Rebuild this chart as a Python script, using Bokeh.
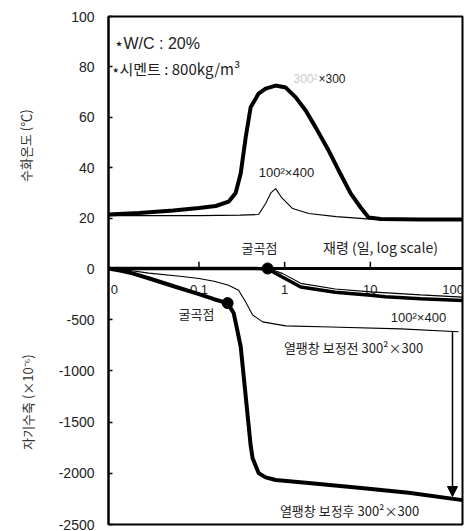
import numpy as np
from bokeh.plotting import figure
from bokeh.layouts import row
from bokeh.models import Range1d, FixedTicker, Span, Label, Arrow, NormalHead
from bokeh.core.properties import value
from bokeh.embed import file_html
from bokeh.resources import INLINE

# ---------------- data ----------------
# hydration temperature (deg C) vs age (days)
temp300_days = [0.0088, 0.02, 0.05, 0.1, 0.157, 0.222, 0.268, 0.307, 0.351, 0.401, 0.497, 0.6,
                0.785, 1.03, 1.34, 1.76, 2.3, 3.26, 4.27, 5.89, 7.71, 9.55, 13.2, 38.6, 119]
temp300_vals = [21.4, 22.0, 23.0, 24.0, 24.8, 26.5, 30.0, 37.7, 52.0, 64.0, 69.4, 71.4,
                72.6, 71.8, 68.0, 62.7, 56.0, 46.8, 38.9, 29.8, 24.2, 20.2, 19.6, 19.4, 19.4]
temp100_days = [0.0088, 0.1, 0.3, 0.497, 0.6, 0.69, 0.785, 0.93, 1.24, 1.91, 4.0, 10.0, 119]
temp100_vals = [21.0, 21.0, 21.2, 21.4, 25.8, 30.0, 31.7, 28.0, 23.8, 21.8, 20.6, 19.6, 19.4]

# autogenous shrinkage (x10^-6) vs age (days)
s100_after_days = [0.0088, 0.45, 0.633, 0.95, 1.54, 3.9, 10.1, 15, 38.6, 119]
s100_after_vals = [0, 0, -5, -85, -180, -232, -262, -275, -295, -312]
s100_before_days = [0.0088, 0.7, 0.95, 1.54, 3.9, 10.1, 38.6, 119]
s100_before_vals = [0, -10, -50, -145, -200, -228, -258, -280]
s300_before_days = [0.0088, 0.013, 0.026, 0.06, 0.1, 0.15, 0.222, 0.29, 0.351, 0.423, 0.553,
                    1.03, 3.45, 22.6, 107]
s300_before_vals = [0, -10, -45, -75, -97, -125, -164, -212, -328, -454, -521,
                    -560, -572, -590, -618]
s300_after_days = [0.0088, 0.012, 0.0168, 0.027, 0.053, 0.1, 0.15, 0.216, 0.254, 0.307, 0.351,
                   0.401, 0.423, 0.497, 0.6, 0.785, 1.9, 7.3, 28, 119]
s300_after_vals = [0, -20, -48, -100, -178, -251, -300, -338, -434, -762, -1245,
                   -1727, -1853, -1998, -2040, -2065, -2094, -2142, -2190, -2262]

inflect_days = [0.216, 0.633]
inflect_vals = [-338, 0]

x_ticks = [0.01, 0.1, 1, 10, 100]
x_tick_labels = ["0", "0.1", "1", "10", "100"]
temp_ticks = [20, 40, 60, 80, 100]
strain_ticks = [0, -500, -1000, -1500, -2000, -2500]

axis_titles = ["수화온도 (℃)", "자기수축 (×10⁻⁶)"]

# ---------------- geometry ----------------
W, H = 475, 531
LW = 50                      # width of the side strip holding the axis titles
XMIN, XMAX = 0.0088, 119
FL, FR, FT, FB = 108, 462, 16, 524
ZERO_PX = 268
S_MIN = -2500
S_MAX = 2500 / (FB - ZERO_PX) * (ZERO_PX - FT)
T_MAX = 100
T_MIN = -T_MAX / (ZERO_PX - FT) * (FB - ZERO_PX)
K = S_MAX / T_MAX

def sx(px):
    a, b = np.log10(XMIN), np.log10(XMAX)
    return 10 ** (a + (px - FL) / (FR - FL) * (b - a))

def sy(py):
    return S_MAX - (py - FT) / (FB - FT) * (S_MAX - S_MIN)

LAT = "Liberation Sans"
KR = "Noto Sans CJK KR"

# ---------------- side strip with the two vertical axis titles ----------------
side = figure(width=LW, height=H, x_range=Range1d(0, LW), y_range=Range1d(0, H),
              x_axis_location=None, y_axis_location=None, output_backend="svg",
              toolbar_location=None, min_border=0)
side.outline_line_color = None
side.grid.visible = False
side.text(x=[25, 27], y=[H - 135, H - 403], text=axis_titles, angle=np.pi / 2,
          text_font=value(KR), text_font_size="13px", text_align="center",
          text_baseline="middle", text_color="#333333")

# ---------------- main plot ----------------
p = figure(width=W - LW, height=H, x_axis_type="log", x_axis_location=None,
           y_axis_location="left", output_backend="svg", toolbar_location=None,
           x_range=Range1d(XMIN, XMAX), y_range=Range1d(S_MIN, S_MAX),
           min_border_left=FL - LW, min_border_right=W - FR, min_border_top=FT,
           min_border_bottom=H - FB)
p.extra_y_ranges = {"temp": Range1d(T_MIN, T_MAX)}
p.grid.visible = False
p.outline_line_color = "black"
p.outline_line_width = 2

ax = p.yaxis[0]
all_ticks = [float(v) for v in strain_ticks] + [float(t * K) for t in temp_ticks]
ax.ticker = FixedTicker(ticks=all_ticks)
overrides = {float(v): str(v) for v in strain_ticks}
for t in temp_ticks:
    overrides[float(t * K)] = str(t)
ax.major_label_overrides = overrides
ax.major_tick_in = 4
ax.major_tick_out = 0
ax.minor_tick_in = 0
ax.minor_tick_out = 0
ax.major_label_standoff = 14
ax.axis_line_width = 2
ax.major_tick_line_width = 1.5
ax.major_label_text_font = LAT
ax.major_label_text_font_size = "14px"
ax.major_label_text_color = "#222222"

# zero line (panel divider)
p.add_layout(Span(location=0, dimension="width", line_color="black", line_width=3))

# decade ticks pointing up from the zero line, and their labels below it
p.segment(x0=x_ticks[1:4], y0=[0] * 3, x1=x_ticks[1:4], y1=[65] * 3,
          line_color="black", line_width=1.5)
p.text(x=x_ticks, y=[0] * len(x_ticks), text=x_tick_labels, y_offset=21,
       x_offset=[1, 0, 0, 0, -3],
       text_font=value(LAT), text_font_size="13px", text_align="center",
       text_baseline="middle", text_color="#222222")

# temperature curves
p.line(temp100_days, temp100_vals, y_range_name="temp", line_color="black", line_width=1.1)
p.line(temp300_days, temp300_vals, y_range_name="temp", line_color="black", line_width=4)

# shrinkage curves
p.line(s100_before_days, s100_before_vals, line_color="black", line_width=1.1)
p.line(s100_after_days, s100_after_vals, line_color="black", line_width=3.5)
p.line(s300_before_days, s300_before_vals, line_color="black", line_width=1.1)
p.line(s300_after_days, s300_after_vals, line_color="black", line_width=4)
p.scatter(inflect_days, inflect_vals, size=11, color="black")

# arrow (thermal-expansion correction)
p.add_layout(Arrow(end=NormalHead(size=10, fill_color="black", line_color="black"),
                   x_start=sx(452), y_start=s300_before_vals[-1],
                   x_end=sx(452), y_end=s300_after_vals[-1] + 35,
                   line_color="black", line_width=1.5))

def lab(px, py, text, font=KR, size="13px", align="center", color="#222222"):
    p.add_layout(Label(x=sx(px), y=sy(py), text=text, text_font=font, text_font_size=size,
                       text_align=align, text_baseline="middle", text_color=color))

lab(113, 43, "⋆W/C : 20%", font=LAT, size="16px", align="left")
lab(110, 68, "⋆시멘트 : 800kg/m³", size="15px", align="left")
lab(293, 78, "300²", font=LAT, size="12px", align="left", color="#cccccc")
lab(318, 78, "×300", font=LAT, size="12px", align="left")
lab(286, 172, "100²×400", font=LAT, size="13px")
lab(259, 247, "굴곡점", size="13px")
lab(380, 246, "재령 (일, log scale)", size="14px")
lab(196, 313, "굴곡점", size="13px")
lab(418, 317, "100²×400", font=LAT, size="13px")
lab(353, 347, "열팽창 보정전 300²×300", size="13px")
lab(349, 510, "열팽창 보정후 300²×300", size="13px")

open("out.html", "w").write(file_html(row(side, p, spacing=0), INLINE))
